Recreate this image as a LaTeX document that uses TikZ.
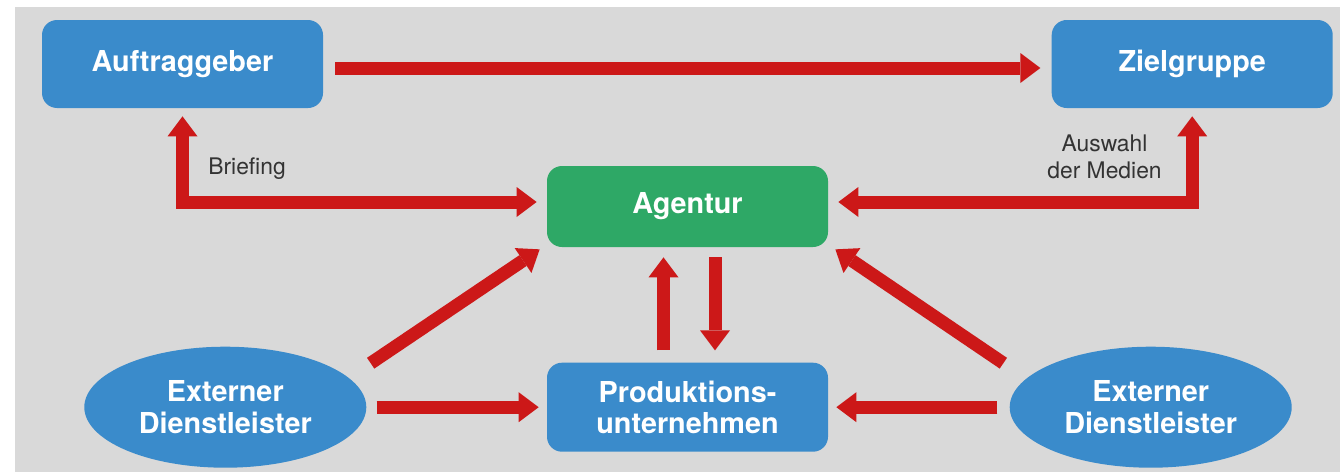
\documentclass[tikz,border=0pt]{standalone}
\usepackage{fontspec}
\setmainfont{TeX Gyre Heros}
\usepackage{tikz}
\usetikzlibrary{positioning}
\usetikzlibrary{shapes.geometric}
\usetikzlibrary{arrows.meta}
\definecolor{boxblue}{HTML}{3A8BCB}
\definecolor{boxgreen}{HTML}{2EA866}
\definecolor{arrowred}{HTML}{CC1818}
\definecolor{bggray}{HTML}{D9D9D9}
\definecolor{notegray}{HTML}{333333}
\tikzstyle{redline} = [draw=arrowred, line width=0.26cm, >={Triangle[length=0.4cm, width=0.6cm, line width=0pt]}, ->]

\begin{document}
\begin{tikzpicture}[box/.style={rectangle, rounded corners=0.3cm, fill=boxblue, text=white, inner sep=0pt,
				font=\fontsize{16.4}{17.8}\selectfont\bfseries, minimum width=5.62cm},
				oval/.style={ellipse, fill=boxblue, text=white, inner sep=0pt,
				font=\fontsize{16.4}{17.8}\selectfont\bfseries, minimum width=5.64cm, minimum height=2.42cm},
				note/.style={font=\fontsize{13}{15.4}\selectfont, text=notegray, inner sep=0pt},
				every text node part/.style={align=center}]
				\useasboundingbox (0, 0) rectangle (26.8, -9.44);
				\fill[bggray] (0.3, -0.14) rectangle (26.8, -9.44);
				
				\node[box, minimum height=1.76cm](node1) at (3.65, -1.28) {Auftraggeber};
				\node[box, minimum height=1.76cm, right=14.56cm of node1](node2) {Zielgruppe};
				
				\node[box, fill=boxgreen, minimum height=1.62cm](node3) at (13.75, -4.13) {Agentur};
				\node[box, minimum height=1.78cm, below=2.3cm of node3](node4) {Produktions-\\unternehmen};
				
				\node[oval, left=3.6cm of node4](node5) {Externer\\Dienstleister};
				\node[oval, right=3.62cm of node4](node6) {Externer\\Dienstleister};
				
				\node[note, anchor=west](brief) at (4.16, -3.38) {Briefing};
				\node[note](medien) at (22.09, -3.13) {Auswahl\\der Medien};
				
				\draw[redline] ([xshift=0.24cm, yshift=-0.08cm]node1.east) -- ([xshift=-0.22cm, yshift=-0.08cm]node2.west);
				\draw[redline, <->] ([yshift=-0.16cm]node1.south) |- ([xshift=-0.2cm, yshift=0.09cm]node3.west);
				\draw[redline, <->] ([yshift=-0.16cm]node2.south) |- ([xshift=0.2cm, yshift=0.09cm]node3.east);
				
				\draw[redline] ([shift={(0.08, 0.88)}]node5.east) -- ([shift={(-0.14, -0.04)}]node3.south west);
				\draw[redline] ([shift={(-0.12, 0.88)}]node6.west) -- ([shift={(0.14, -0.04)}]node3.south east);
				\draw[redline] ([xshift=0.2cm]node5.east) -- ([xshift=-0.16cm]node4.west);
				\draw[redline] ([xshift=-0.24cm]node6.west) -- ([xshift=0.16cm]node4.east);
				
				\draw[redline] ([xshift=-0.48cm, yshift=0.24cm]node4.north) -- ([xshift=-0.48cm, yshift=-0.2cm]node3.south);
				\draw[redline] ([xshift=0.55cm, yshift=-0.2cm]node3.south) -- ([xshift=0.55cm, yshift=0.24cm]node4.north);
			\end{tikzpicture}
\end{document}
